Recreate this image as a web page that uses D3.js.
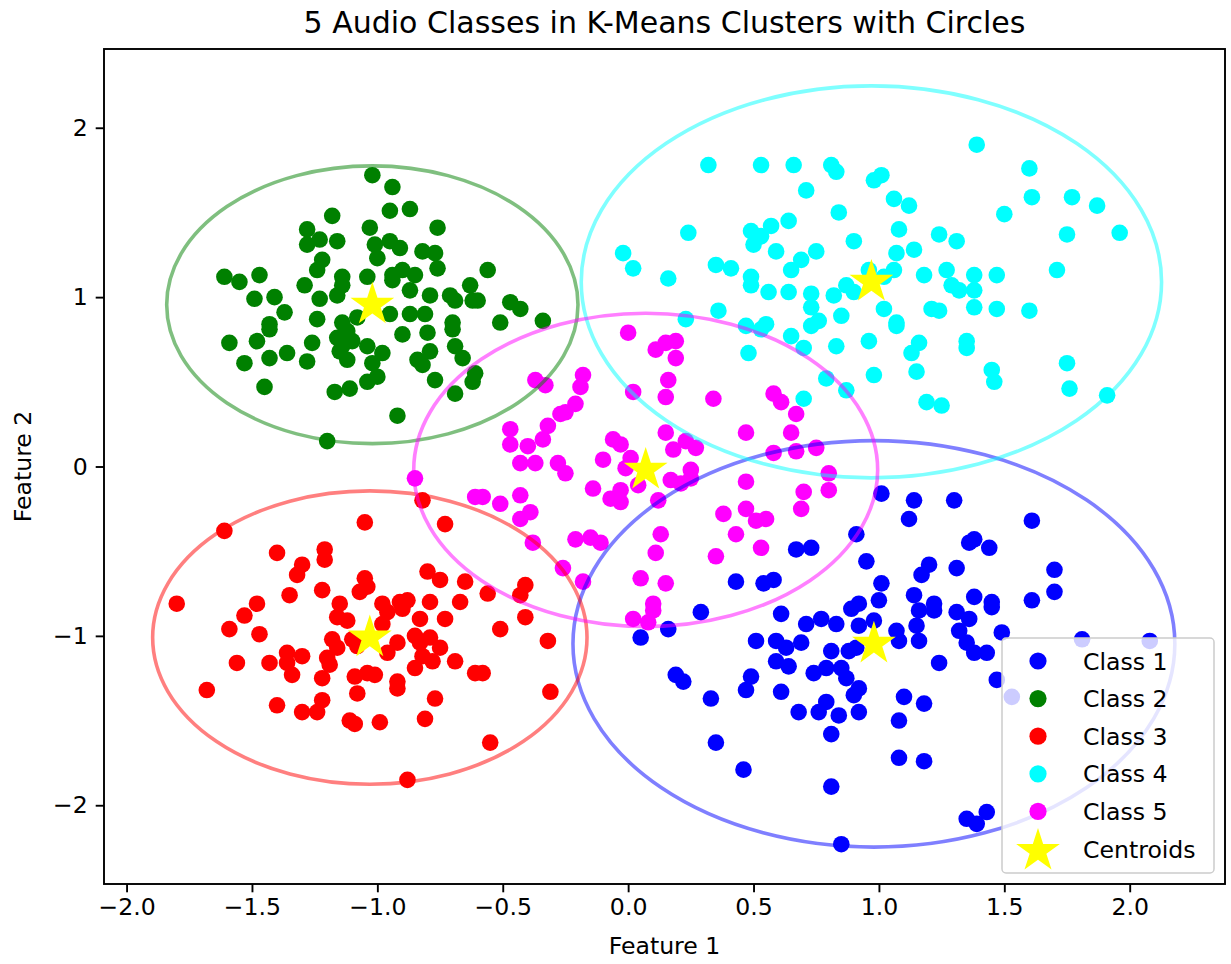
<!DOCTYPE html>
<html>
<head>
<meta charset="utf-8">
<script src="https://cdn.jsdelivr.net/npm/d3@7"></script>
<style>
  body { margin: 0; background: #fff; }
  svg { font-family: "DejaVu Sans", sans-serif; }
</style>
</head>
<body>
<div id="chart"></div>
<script>
// ---- data ----
const classNames = ['Class 1', 'Class 2', 'Class 3', 'Class 4', 'Class 5'];
const classColors = ['#0000ff', '#008000', '#ff0000', '#00ffff', '#ff00ff'];

const class1Points = [
  [1.01,-0.16],[1.14,-0.20],[1.30,-0.20],[1.12,-0.31],[1.61,-0.32],[0.91,-0.40],[1.36,-0.45],[1.38,-0.43],
  [1.44,-0.48],[0.95,-0.56],[1.20,-0.58],[1.17,-0.64],[1.31,-0.60],[1.70,-0.61],[1.01,-0.69],[1.14,-0.76],
  [1.38,-0.77],[1.70,-0.74],[1.00,-0.79],[1.22,-0.81],[1.45,-0.80],[1.61,-0.79],[0.92,-0.81],
  [0.98,-0.91],[0.92,-0.94],[1.07,-0.97],[1.15,-0.94],[1.16,-0.85],[1.22,-0.85],[1.31,-0.86],[1.36,-0.90],
  [1.45,-0.83],[1.32,-0.97],[1.35,-1.04],[1.38,-1.10],[1.43,-1.10],[1.49,-0.98],[1.16,-1.03],[1.08,-1.03],
  [1.24,-1.16],[0.91,-1.07],[0.92,-1.31],[0.90,-1.35],[0.92,-1.45],[1.10,-1.36],[1.18,-1.40],[1.08,-1.50],
  [1.08,-1.72],[1.18,-1.74],[1.47,-1.26],[1.53,-1.36],[1.81,-1.02],[2.08,-1.03],[1.35,-2.08],[1.39,-2.11],
  [1.43,-2.04],
  [0.29,-0.86],[0.05,-1.01],[0.16,-0.96],[0.61,-0.87],[0.71,-0.93],[0.77,-0.90],[0.83,-0.93],[0.89,-0.84],
  [0.51,-1.03],[0.59,-1.03],[0.63,-1.07],[0.69,-1.04],[0.81,-1.09],[0.88,-1.09],[0.59,-1.15],[0.64,-1.18],
  [0.74,-1.22],[0.79,-1.19],[0.85,-1.19],[0.87,-1.25],[0.19,-1.23],[0.22,-1.27],[0.49,-1.24],[0.47,-1.32],
  [0.61,-1.33],[0.33,-1.37],[0.79,-1.39],[0.68,-1.45],[0.76,-1.45],[0.84,-1.47],[0.81,-1.58],[0.35,-1.63],
  [0.46,-1.79],[0.81,-1.89],[0.85,-2.23],
  [0.67,-0.49],[0.73,-0.48],[0.43,-0.68],[0.54,-0.69],[0.58,-0.67]
];

const class2Points = [
  [-1.02,1.72],[-0.94,1.65],[-0.95,1.51],[-0.87,1.52],[-1.18,1.48],[-1.03,1.41],[-0.76,1.41],[-1.28,1.40],
  [-1.28,1.31],[-1.23,1.34],[-1.16,1.33],[-1.01,1.31],[-0.95,1.33],[-0.91,1.29],[-0.82,1.27],[-0.77,1.26],
  [-0.76,1.17],[-1.00,1.23],[-1.22,1.22],[-1.24,1.16],[-1.14,1.12],[-1.04,1.12],[-0.94,1.13],[-0.90,1.16],
  [-0.85,1.13],[-1.61,1.12],[-1.55,1.09],[-1.47,1.13],[-1.29,1.07],[-1.14,1.07],[-0.94,1.10],[-0.87,1.04],
  [-0.79,1.01],[-0.71,1.01],[-0.69,0.98],[-0.63,1.07],[-0.62,0.98],[-1.49,0.99],[-1.41,1.00],[-1.37,0.91],
  [-1.23,0.99],[-1.16,1.01],[-0.87,0.90],[-0.81,0.90],[-0.95,0.90],[-0.70,0.85],[-1.43,0.84],[-1.24,0.87],
  [-1.14,0.85],
  [-1.59,0.73],[-1.48,0.74],[-1.43,0.81],[-1.53,0.61],[-1.43,0.64],[-1.36,0.67],[-1.28,0.62],[-1.26,0.73],
  [-1.14,0.77],[-1.14,0.71],[-1.12,0.63],[-1.15,0.68],[-1.04,0.71],[-0.98,0.67],[-1.02,0.61],[-1.00,0.53],
  [-1.04,0.50],[-1.11,0.46],[-1.17,0.44],[-1.45,0.47],[-0.92,0.30],[-1.20,0.15],[-0.80,0.79],[-0.70,0.81],
  [-0.79,0.68],[-0.84,0.63],[-0.82,0.60],[-0.77,0.51],[-0.69,0.71],[-0.66,0.64],[-0.69,0.43],[-0.62,0.50],
  [-0.61,0.55],
  [-0.56,1.16],[-0.60,0.98],[-0.47,0.97],[-0.43,0.93],[-0.51,0.85],[-0.34,0.86],
  [-1.12,0.80],[-1.10,0.74],[-1.16,0.76],[-1.08,0.88],[-0.90,0.78]
];

const class3Points = [
  [-1.61,-0.38],[-1.05,-0.33],[-0.82,-0.20],[-0.73,-0.34],[-1.40,-0.51],[-1.21,-0.49],[-1.21,-0.55],[-1.30,-0.58],
  [-1.32,-0.64],[-1.05,-0.66],[-1.04,-0.71],[-1.07,-0.74],[-1.22,-0.73],[-1.35,-0.76],[-0.80,-0.62],[-0.75,-0.67],
  [-0.65,-0.68],[-1.80,-0.81],[-1.48,-0.81],[-1.15,-0.81],[-0.98,-0.81],[-0.91,-0.80],[-0.88,-0.79],[-0.79,-0.80],
  [-0.67,-0.80],
  [-1.53,-0.88],[-1.59,-0.96],[-1.47,-0.99],[-1.16,-0.89],[-1.12,-0.91],[-0.98,-0.93],[-0.96,-0.86],[-0.90,-0.84],
  [-0.83,-0.90],[-0.73,-0.90],
  [-1.18,-1.02],[-1.16,-1.07],[-1.20,-1.13],[-1.19,-1.17],[-1.36,-1.10],[-1.30,-1.12],[-1.36,-1.16],[-1.34,-1.23],
  [-1.22,-1.25],[-1.56,-1.16],[-1.43,-1.16],[-1.68,-1.32],[-1.40,-1.41],[-1.30,-1.45],[-1.24,-1.45],[-1.22,-1.38],
  [-1.11,-1.50],[-1.09,-1.52],[-0.99,-1.51],[-1.08,-1.34],[-1.09,-1.24],[-1.01,-1.23],[-1.04,-1.22],[-0.92,-1.27],
  [-0.92,-1.31],[-0.96,-1.10],[-0.92,-1.04],[-0.85,-1.00],[-0.83,-1.04],[-0.79,-1.01],[-0.75,-1.07],[-0.78,-1.15],
  [-0.85,-1.19],[-0.82,-1.12],[-0.69,-1.15],[-0.61,-1.22],[-0.77,-1.37],[-0.81,-1.49],[-0.88,-1.85],[-1.08,-1.06],
  [-1.10,-1.02],
  [-0.41,-0.89],[-0.51,-0.96],[-0.32,-1.03],[-0.58,-1.22],[-0.31,-1.33],[-0.55,-1.63],[-0.41,-0.70],[-0.43,-0.76],
  [-0.56,-0.75]
];

const class4Points = [
  [0.32,1.78],[0.53,1.78],[0.66,1.78],[0.81,1.78],[0.83,1.74],[0.71,1.63],[0.84,1.50],[0.24,1.38],
  [0.49,1.39],[0.57,1.42],[0.64,1.45],[0.53,1.36],[0.50,1.31],[0.59,1.27],[0.75,1.27],[0.69,1.22],
  [0.65,1.16],[-0.02,1.26],[0.02,1.17],[0.16,1.11],[0.35,1.19],[0.41,1.17],[0.49,1.12],[0.49,1.07],
  [0.56,1.03],[0.64,1.03],[0.73,1.02],[0.82,1.01],[0.87,1.07],[0.73,0.94],[0.85,0.89],[0.36,0.92],
  [0.23,0.87],[0.47,0.83],[0.55,0.84],[0.76,0.86],
  [1.39,1.90],[1.60,1.76],[1.61,1.59],[1.77,1.59],[1.87,1.54],[1.50,1.49],[1.75,1.37],[1.96,1.38],
  [1.71,1.16],[0.98,1.69],[1.01,1.72],[1.06,1.58],[1.12,1.54],[1.08,1.40],[0.90,1.33],[1.07,1.26],
  [1.14,1.28],[1.24,1.37],[1.31,1.33],[0.96,1.16],[1.06,1.16],[1.02,1.12],[1.18,1.13],[1.27,1.16],
  [1.38,1.13],[1.47,1.13],[1.29,1.07],[1.32,1.04],[1.38,1.04],[0.90,1.03],[1.02,0.93],[1.07,0.85],
  [1.21,0.93],[1.24,0.92],[1.38,0.94],[1.47,0.93],[1.60,0.92],
  [0.96,0.74],[1.07,0.83],[1.16,0.73],[1.13,0.67],[1.35,0.74],[1.35,0.70],[0.98,0.54],[1.15,0.56],
  [1.45,0.57],[1.46,0.50],[1.75,0.61],[1.76,0.46],[1.19,0.38],[1.25,0.36],[1.91,0.42],
  [0.48,0.67],[0.70,0.70],[0.65,0.77],[0.83,0.71],[0.79,0.52],[0.70,0.40],[0.87,0.45],[0.53,0.81],
  [0.73,0.83]
];

const class5Points = [
  [0.00,0.79],[0.11,0.69],[0.15,0.73],[0.19,0.74],[0.19,0.64],[0.16,0.51],[0.15,0.41],[0.02,0.44],
  [0.34,0.40],[0.58,0.43],[0.61,0.38],[0.67,0.31],[0.65,0.20],[0.47,0.20],[0.58,0.08],[0.67,0.09],
  [0.75,0.11],[0.80,-0.04],[0.80,-0.14],[0.70,-0.15],[0.69,-0.25],[0.47,-0.09],[0.38,-0.28],[0.47,-0.25],
  [0.51,-0.32],[0.55,-0.31],[0.43,-0.40],[0.53,-0.48],[0.35,-0.53],[0.13,-0.40],[0.11,-0.51],[0.05,-0.66],
  [0.15,-0.69],[0.10,-0.81],[-0.18,-0.68],[-0.26,-0.60],[-0.38,-0.45],[-0.21,-0.43],[-0.15,-0.42],[-0.11,-0.45],
  [-0.43,-0.17],[-0.39,-0.27],[-0.43,-0.31],[-0.58,-0.18],[-0.51,-0.22],[-0.43,0.02],[-0.37,0.02],[-0.47,0.13],
  [-0.47,0.22],[-0.40,0.12],[-0.34,0.16],[-0.32,0.24],[-0.27,0.31],[-0.25,0.32],[-0.21,0.37],[-0.19,0.47],
  [-0.18,0.54],[-0.37,0.51],[-0.33,0.48],[-0.28,0.02],[-0.25,-0.04],[-0.10,0.04],[-0.06,0.16],[-0.03,0.13],
  [0.01,0.05],[-0.01,-0.01],[0.04,-0.11],[-0.03,-0.14],[-0.07,-0.19],[-0.03,-0.21],[-0.14,-0.13],[0.12,-0.20],
  [0.15,0.20],[0.18,0.10],[0.23,0.15],[0.27,0.11],[0.25,-0.02],[0.17,-0.08],[0.21,-0.10],[0.25,-0.07],
  [-0.85,-0.07],[-0.61,-0.18],[0.02,-0.90],[0.08,-0.92],[0.10,-0.85]
];

// centroids (x, y) and circle radius per class, same order as classNames
const centroidX = [0.98, -1.02, -1.03, 0.97, 0.07];
const centroidY = [-1.047, 0.955, -1.01, 1.09, -0.02];
const circleRadius = [1.20, 0.82, 0.866, 1.157, 0.925];

const xTicks = [-2.0, -1.5, -1.0, -0.5, 0.0, 0.5, 1.0, 1.5, 2.0];
const yTicks = [-2, -1, 0, 1, 2];

const classPoints = [class1Points, class2Points, class3Points, class4Points, class5Points];

// ---- layout ----
const W = 1231, H = 964;
const plot = { left: 104, right: 1225, top: 49, bottom: 884 };
const fs = 23.6;

const svg = d3.select('#chart').append('svg')
  .attr('width', W).attr('height', H)
  .attr('viewBox', `0 0 ${W} ${H}`);

svg.append('rect').attr('width', W).attr('height', H).attr('fill', '#fff');

const x = d3.scaleLinear().domain([-2.09, 2.38]).range([plot.left, plot.right]);
const y = d3.scaleLinear().domain([-2.465, 2.465]).range([plot.bottom, plot.top]);

const minus = s => s.replace('-', '\u2212');

// clip
svg.append('clipPath').attr('id', 'clip')
  .append('rect')
  .attr('x', plot.left).attr('y', plot.top)
  .attr('width', plot.right - plot.left).attr('height', plot.bottom - plot.top);

const gPlot = svg.append('g').attr('clip-path', 'url(#clip)');

// points
classPoints.forEach((pts, i) => {
  gPlot.append('g')
    .selectAll('circle')
    .data(pts)
    .join('circle')
    .attr('cx', d => x(d[0]))
    .attr('cy', d => y(d[1]))
    .attr('r', 8.3)
    .attr('fill', classColors[i]);
});

// cluster circles (data-space circles -> ellipses on screen)
gPlot.append('g')
  .selectAll('ellipse')
  .data(d3.range(classNames.length))
  .join('ellipse')
  .attr('cx', i => x(centroidX[i]))
  .attr('cy', i => y(centroidY[i]))
  .attr('rx', i => x(circleRadius[i]) - x(0))
  .attr('ry', i => y(0) - y(circleRadius[i]))
  .attr('fill', 'none')
  .attr('stroke', i => classColors[i])
  .attr('stroke-opacity', 0.5)
  .attr('stroke-width', 3.6);

// centroid stars
const star = d3.symbol().type(d3.symbolStar).size(23 * 23 / 0.8908130915292852);
gPlot.append('g')
  .selectAll('path')
  .data(d3.range(classNames.length))
  .join('path')
  .attr('transform', i => `translate(${x(centroidX[i])},${y(centroidY[i])})`)
  .attr('d', star)
  .attr('fill', '#ffff00');

// axes
const xAxis = svg.append('g')
  .attr('transform', `translate(0,${plot.bottom})`)
  .call(d3.axisBottom(x).tickValues(xTicks).tickFormat(d => minus(d3.format('.1f')(d)))
    .tickSize(8.3).tickPadding(6));
const yAxis = svg.append('g')
  .attr('transform', `translate(${plot.left},0)`)
  .call(d3.axisLeft(y).tickValues(yTicks).tickFormat(d => minus(d3.format('d')(d)))
    .tickSize(8.3).tickPadding(8));

[xAxis, yAxis].forEach(a => {
  a.select('.domain').remove();
  a.selectAll('.tick line').attr('stroke', '#000').attr('stroke-width', 1.9);
  a.selectAll('.tick text')
    .attr('font-family', '"DejaVu Sans", sans-serif')
    .attr('font-size', fs).attr('fill', '#000');
});

// frame
svg.append('rect')
  .attr('x', plot.left).attr('y', plot.top)
  .attr('width', plot.right - plot.left).attr('height', plot.bottom - plot.top)
  .attr('fill', 'none').attr('stroke', '#000').attr('stroke-width', 1.9);

// title + labels
svg.append('text')
  .attr('x', (plot.left + plot.right) / 2).attr('y', 33)
  .attr('text-anchor', 'middle').attr('font-size', 30)
  .text('5 Audio Classes in K-Means Clusters with Circles');

svg.append('text')
  .attr('x', (plot.left + plot.right) / 2).attr('y', 954)
  .attr('text-anchor', 'middle').attr('font-size', fs)
  .text('Feature 1');

svg.append('text')
  .attr('transform', `translate(31,${(plot.top + plot.bottom) / 2}) rotate(-90)`)
  .attr('text-anchor', 'middle').attr('font-size', fs)
  .text('Feature 2');

// legend
const legend = svg.append('g');
legend.append('rect')
  .attr('x', 1002).attr('y', 638).attr('width', 212).attr('height', 235)
  .attr('rx', 4)
  .attr('fill', '#fff').attr('fill-opacity', 0.8)
  .attr('stroke', '#cccccc').attr('stroke-width', 1.5);

const legendItems = classNames.map((n, i) => ({ name: n, color: classColors[i], star: false }))
  .concat([{ name: 'Centroids', color: '#ffff00', star: true }]);

const rowY = i => 661 + i * 37.6;
legendItems.forEach((it, i) => {
  if (it.star) {
    legend.append('path')
      .attr('transform', `translate(1038,${rowY(i) + 2})`)
      .attr('d', star).attr('fill', it.color);
  } else {
    legend.append('circle')
      .attr('cx', 1038).attr('cy', rowY(i)).attr('r', 8.6).attr('fill', it.color);
  }
  legend.append('text')
    .attr('x', 1083).attr('y', rowY(i) + 8.5)
    .attr('font-size', fs).attr('fill', '#000')
    .text(it.name);
});
</script>
</body>
</html>
